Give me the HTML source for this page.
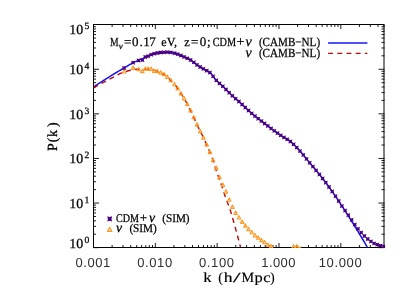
<!DOCTYPE html>
<html><head><meta charset="utf-8"><title>P(k)</title>
<style>
html,body{margin:0;padding:0;background:#fff;}
body{width:415px;height:297px;overflow:hidden;font-family:"Liberation Serif",serif;}
svg{display:block;opacity:0.999;will-change:transform;}
text{text-rendering:geometricPrecision;}
</style></head>
<body>
<svg width="415" height="297" viewBox="0 0 415 297">
<rect x="0" y="0" width="415" height="297" fill="#fff"/>
<defs><clipPath id="box"><rect x="93.5" y="24.5" width="290.5" height="223.0"/></clipPath><clipPath id="box2"><rect x="93.5" y="24.5" width="291.7" height="223.6"/></clipPath></defs>
<path d="M112.11,247.5v-2.5 M112.11,24.5v2.5 M123.00,247.5v-2.5 M123.00,24.5v2.5 M130.72,247.5v-2.5 M130.72,24.5v2.5 M136.71,247.5v-2.5 M136.71,24.5v2.5 M141.61,247.5v-2.5 M141.61,24.5v2.5 M145.75,247.5v-2.5 M145.75,24.5v2.5 M149.33,247.5v-2.5 M149.33,24.5v2.5 M152.49,247.5v-2.5 M152.49,24.5v2.5 M155.32,247.5v-4.5 M155.32,24.5v4.5 M173.93,247.5v-2.5 M173.93,24.5v2.5 M184.82,247.5v-2.5 M184.82,24.5v2.5 M192.54,247.5v-2.5 M192.54,24.5v2.5 M198.53,247.5v-2.5 M198.53,24.5v2.5 M203.43,247.5v-2.5 M203.43,24.5v2.5 M207.57,247.5v-2.5 M207.57,24.5v2.5 M211.15,247.5v-2.5 M211.15,24.5v2.5 M214.32,247.5v-2.5 M214.32,24.5v2.5 M217.14,247.5v-4.5 M217.14,24.5v4.5 M235.75,247.5v-2.5 M235.75,24.5v2.5 M246.64,247.5v-2.5 M246.64,24.5v2.5 M254.36,247.5v-2.5 M254.36,24.5v2.5 M260.36,247.5v-2.5 M260.36,24.5v2.5 M265.25,247.5v-2.5 M265.25,24.5v2.5 M269.39,247.5v-2.5 M269.39,24.5v2.5 M272.97,247.5v-2.5 M272.97,24.5v2.5 M276.14,247.5v-2.5 M276.14,24.5v2.5 M278.97,247.5v-4.5 M278.97,24.5v4.5 M297.58,247.5v-2.5 M297.58,24.5v2.5 M308.46,247.5v-2.5 M308.46,24.5v2.5 M316.19,247.5v-2.5 M316.19,24.5v2.5 M322.18,247.5v-2.5 M322.18,24.5v2.5 M327.07,247.5v-2.5 M327.07,24.5v2.5 M331.21,247.5v-2.5 M331.21,24.5v2.5 M334.80,247.5v-2.5 M334.80,24.5v2.5 M337.96,247.5v-2.5 M337.96,24.5v2.5 M340.79,247.5v-4.5 M340.79,24.5v4.5 M359.40,247.5v-2.5 M359.40,24.5v2.5 M370.28,247.5v-2.5 M370.28,24.5v2.5 M378.01,247.5v-2.5 M378.01,24.5v2.5 M384.00,247.5v-2.5 M384.00,24.5v2.5 M93.0,247.65h6.0 M384.5,247.65h-6.0 M93.0,234.22h3.0 M384.5,234.22h-3.0 M93.0,226.37h3.0 M384.5,226.37h-3.0 M93.0,220.80h3.0 M384.5,220.80h-3.0 M93.0,216.48h3.0 M384.5,216.48h-3.0 M93.0,212.94h3.0 M384.5,212.94h-3.0 M93.0,209.96h3.0 M384.5,209.96h-3.0 M93.0,207.37h3.0 M384.5,207.37h-3.0 M93.0,205.09h3.0 M384.5,205.09h-3.0 M93.0,203.05h6.0 M384.5,203.05h-6.0 M93.0,189.62h3.0 M384.5,189.62h-3.0 M93.0,181.77h3.0 M384.5,181.77h-3.0 M93.0,176.20h3.0 M384.5,176.20h-3.0 M93.0,171.88h3.0 M384.5,171.88h-3.0 M93.0,168.34h3.0 M384.5,168.34h-3.0 M93.0,165.36h3.0 M384.5,165.36h-3.0 M93.0,162.77h3.0 M384.5,162.77h-3.0 M93.0,160.49h3.0 M384.5,160.49h-3.0 M93.0,158.45h6.0 M384.5,158.45h-6.0 M93.0,145.02h3.0 M384.5,145.02h-3.0 M93.0,137.17h3.0 M384.5,137.17h-3.0 M93.0,131.60h3.0 M384.5,131.60h-3.0 M93.0,127.28h3.0 M384.5,127.28h-3.0 M93.0,123.74h3.0 M384.5,123.74h-3.0 M93.0,120.76h3.0 M384.5,120.76h-3.0 M93.0,118.17h3.0 M384.5,118.17h-3.0 M93.0,115.89h3.0 M384.5,115.89h-3.0 M93.0,113.85h6.0 M384.5,113.85h-6.0 M93.0,100.42h3.0 M384.5,100.42h-3.0 M93.0,92.57h3.0 M384.5,92.57h-3.0 M93.0,87.00h3.0 M384.5,87.00h-3.0 M93.0,82.68h3.0 M384.5,82.68h-3.0 M93.0,79.14h3.0 M384.5,79.14h-3.0 M93.0,76.16h3.0 M384.5,76.16h-3.0 M93.0,73.57h3.0 M384.5,73.57h-3.0 M93.0,71.29h3.0 M384.5,71.29h-3.0 M93.0,69.25h6.0 M384.5,69.25h-6.0 M93.0,55.82h3.0 M384.5,55.82h-3.0 M93.0,47.97h3.0 M384.5,47.97h-3.0 M93.0,42.40h3.0 M384.5,42.40h-3.0 M93.0,38.08h3.0 M384.5,38.08h-3.0 M93.0,34.54h3.0 M384.5,34.54h-3.0 M93.0,31.56h3.0 M384.5,31.56h-3.0 M93.0,28.97h3.0 M384.5,28.97h-3.0 M93.0,26.69h3.0 M384.5,26.69h-3.0" stroke="#000" stroke-width="0.9" fill="none"/>
<rect x="93.5" y="24.5" width="290.5" height="223.0" fill="none" stroke="#000" stroke-width="1.0"/>
<g clip-path="url(#box)">
<path d="M93.5,86.9 L94.5,86.3 L95.5,85.6 L96.5,85.0 L97.5,84.3 L98.5,83.7 L99.5,83.0 L100.5,82.4 L101.5,81.8 L102.5,81.1 L103.5,80.5 L104.5,79.9 L105.5,79.2 L106.5,78.6 L107.5,78.0 L108.5,77.3 L109.5,76.7 L110.5,76.1 L111.5,75.4 L112.5,74.8 L113.5,74.2 L114.5,73.6 L115.5,73.0 L116.5,72.4 L117.5,71.8 L118.5,71.2 L119.5,70.7 L120.5,70.1 L121.5,69.5 L122.5,68.9 L123.5,68.4 L124.5,67.8 L125.5,67.2 L126.5,66.6 L127.5,65.9 L128.5,65.3 L129.5,64.7 L130.5,64.1 L131.5,63.6 L132.5,63.0 L133.5,62.5 L134.5,62.0 L135.5,61.6 L136.5,61.1 L137.5,60.7 L138.5,60.2 L139.5,59.8 L140.5,59.4 L141.5,59.0 L142.5,58.6 L143.5,58.1 L144.5,57.6 L145.5,57.1 L146.5,56.7 L147.5,56.4 L148.5,56.0 L149.5,55.5 L150.5,55.0 L151.5,54.6 L152.5,54.2 L153.5,53.9 L154.5,53.6 L155.5,53.4 L156.5,53.2 L157.5,53.0 L158.5,52.8 L159.5,52.6 L160.5,52.5 L161.5,52.4 L162.5,52.4 L163.5,52.3 L164.5,52.3 L165.5,52.3 L166.5,52.2 L167.5,52.2 L168.5,52.2 L169.5,52.2 L170.5,52.3 L171.5,52.5 L172.5,52.7 L173.5,53.0 L174.5,53.2 L175.5,53.5 L176.5,53.8 L177.5,54.1 L178.5,54.5 L179.5,54.9 L180.5,55.3 L181.5,55.8 L182.5,56.2 L183.5,56.6 L184.5,57.1 L185.5,57.5 L186.5,57.9 L187.5,58.4 L188.5,58.9 L189.5,59.4 L190.5,59.9 L191.5,60.6 L192.5,61.3 L193.5,62.1 L194.5,62.9 L195.5,63.7 L196.5,64.5 L197.5,65.3 L198.5,66.0 L199.5,66.6 L200.5,67.2 L201.5,67.8 L202.5,68.3 L203.5,68.9 L204.5,69.4 L205.5,70.0 L206.5,70.6 L207.5,71.2 L208.5,71.7 L209.5,72.3 L210.5,73.1 L211.5,74.1 L212.5,75.4 L213.5,76.9 L214.5,78.2 L215.5,79.4 L216.5,80.5 L217.5,81.5 L218.5,82.4 L219.5,83.3 L220.5,84.2 L221.5,85.1 L222.5,86.1 L223.5,87.0 L224.5,88.0 L225.5,89.0 L226.5,90.0 L227.5,91.0 L228.5,92.0 L229.5,93.0 L230.5,94.0 L231.5,94.9 L232.5,95.9 L233.5,96.8 L234.5,97.7 L235.5,98.6 L236.5,99.5 L237.5,100.3 L238.5,101.2 L239.5,102.1 L240.5,103.0 L241.5,103.9 L242.5,104.9 L243.5,105.8 L244.5,106.8 L245.5,107.7 L246.5,108.7 L247.5,109.6 L248.5,110.5 L249.5,111.4 L250.5,112.3 L251.5,113.2 L252.5,114.0 L253.5,114.9 L254.5,115.7 L255.5,116.6 L256.5,117.4 L257.5,118.2 L258.5,119.0 L259.5,119.7 L260.5,120.5 L261.5,121.2 L262.5,121.9 L263.5,122.7 L264.5,123.4 L265.5,124.2 L266.5,124.9 L267.5,125.7 L268.5,126.5 L269.5,127.2 L270.5,128.0 L271.5,128.8 L272.5,129.5 L273.5,130.3 L274.5,131.0 L275.5,131.7 L276.5,132.4 L277.5,133.1 L278.5,133.8 L279.5,134.5 L280.5,135.2 L281.5,135.8 L282.5,136.5 L283.5,137.1 L284.5,137.7 L285.5,138.3 L286.5,138.9 L287.5,139.6 L288.5,140.2 L289.5,140.9 L290.5,141.6 L291.5,142.4 L292.5,143.3 L293.5,144.2 L294.5,145.2 L295.5,146.2 L296.5,147.3 L297.5,148.4 L298.5,149.4 L299.5,150.5 L300.5,151.7 L301.5,152.8 L302.5,154.0 L303.5,155.2 L304.5,156.4 L305.5,157.7 L306.5,158.9 L307.5,160.1 L308.5,161.4 L309.5,162.6 L310.5,163.8 L311.5,164.9 L312.5,166.1 L313.5,167.3 L314.5,168.4 L315.5,169.6 L316.5,170.8 L317.5,172.1 L318.5,173.3 L319.5,174.6 L320.5,175.8 L321.5,177.1 L322.5,178.4 L323.5,179.7 L324.5,181.0 L325.5,182.3 L326.5,183.6 L327.5,185.0 L328.5,186.3 L329.5,187.7 L330.5,189.1 L331.5,190.5 L332.5,191.9 L333.5,193.3 L334.5,194.8 L335.5,196.3 L336.5,197.7 L337.5,199.2 L338.5,200.8 L339.5,202.3 L340.5,203.8 L341.5,205.3 L342.5,206.9 L343.5,208.4 L344.5,210.0 L345.5,211.5 L346.5,213.1 L347.5,214.6 L348.5,216.2 L349.5,217.8 L350.5,219.4 L351.5,221.0 L352.5,222.6 L353.5,224.2 L354.5,225.8 L355.5,227.4 L356.5,229.0 L357.5,230.7 L358.5,232.3 L359.5,234.0 L360.5,235.6 L361.5,237.3 L362.5,239.0 L363.5,240.7 L364.5,242.4 L365.5,244.1 L366.5,245.8 L367.3,247.2" stroke="#1010ff" stroke-width="1.5" fill="none" stroke-linejoin="round"/>
<path d="M93.5,87.8 L94.5,87.3 L95.5,86.7 L96.5,86.2 L97.5,85.6 L98.5,85.1 L99.5,84.5 L100.5,84.0 L101.5,83.4 L102.5,82.9 L103.5,82.4 L104.5,81.8 L105.5,81.3 L106.5,80.8 L107.5,80.2 L108.5,79.7 L109.5,79.2 L110.5,78.6 L111.5,78.1 L112.5,77.6 L113.5,77.1 L114.5,76.6 L115.5,76.0 L116.5,75.5 L117.5,75.0 L118.5,74.4 L119.5,73.9 L120.5,73.4 L121.5,73.0 L122.5,72.6 L123.5,72.2 L124.5,71.9 L125.5,71.6 L126.5,71.3 L127.5,71.0 L128.5,70.7 L129.5,70.5 L130.5,70.3 L131.5,70.1 L132.5,69.9 L133.5,69.7 L134.5,69.6 L135.5,69.4 L136.5,69.3 L137.5,69.2 L138.5,69.2 L139.5,69.1 L140.5,69.1 L141.5,69.1 L142.5,69.0 L143.5,69.0 L144.5,69.0 L145.5,69.0 L146.5,69.0 L147.5,69.1 L148.5,69.2 L149.5,69.4 L150.5,69.5 L151.5,69.6 L152.5,69.8 L153.5,70.1 L154.5,70.3 L155.5,70.6 L156.5,71.0 L157.5,71.3 L158.5,71.7 L159.5,72.2 L160.5,72.7 L161.5,73.2 L162.5,73.7 L163.5,74.3 L164.5,74.9 L165.5,75.6 L166.5,76.4 L167.5,77.2 L168.5,78.1 L169.5,79.1 L170.5,80.2 L171.5,81.2 L172.5,82.2 L173.5,83.2 L174.5,84.3 L175.5,85.5 L176.5,86.8 L177.5,88.2 L178.5,89.7 L179.5,91.2 L180.5,92.8 L181.5,94.3 L182.5,95.8 L183.5,97.4 L184.5,99.1 L185.5,100.8 L186.5,102.6 L187.5,104.5 L188.5,106.4 L189.5,108.4 L190.5,110.4 L191.5,112.4 L192.5,114.5 L193.5,116.7 L194.5,119.0 L195.5,121.3 L196.5,123.5 L197.5,125.6 L198.5,127.8 L199.5,129.8 L200.5,131.8 L201.5,133.7 L202.5,135.7 L203.5,137.7 L204.5,139.8 L205.5,142.0 L206.5,144.2 L207.5,146.5 L208.5,148.8 L209.5,151.2 L210.5,153.6 L211.5,156.1 L212.5,158.8 L213.5,161.7 L214.5,164.8 L215.5,168.1 L216.5,171.4 L217.5,174.4 L218.5,177.1 L219.5,179.8 L220.5,182.4 L221.5,185.2 L222.5,188.1 L223.5,191.2 L224.5,194.2 L225.5,197.1 L226.5,199.8 L227.5,202.5 L228.5,205.2 L229.5,208.0 L230.5,211.0 L231.5,214.2 L232.5,217.6 L233.5,221.2 L234.5,224.8 L235.5,228.4 L236.5,232.1 L237.5,235.8 L238.5,239.5 L239.5,243.3 L240.5,247.2" stroke="#c00808" stroke-width="1.4" fill="none" stroke-dasharray="5.0 4.1" stroke-linejoin="round"/>
</g>
<defs>
<path id="st" d="M-2.0,-2.0 L0,-1.4 L2.0,-2.0 L1.4,0 L2.0,2.0 L0,1.4 L-2.0,2.0 L-1.4,0 Z" fill="#4b0082"/>
<path id="tr" d="M0,-1.9 L1.7,1.45 L-1.7,1.45 Z" fill="none" stroke="#ff9822" stroke-width="1.15" stroke-linejoin="round"/>
<path id="stL" d="M-2.4,-2.6 L0,-1.9 L2.4,-2.6 L1.8,0 L2.4,2.6 L0,1.9 L-2.4,2.6 L-1.8,0 Z" fill="#4b0082"/>
<path id="trL" d="M0,-2.0 L2.2,1.9 L-2.2,1.9 Z" fill="none" stroke="#ff9822" stroke-width="1.2" stroke-linejoin="round"/>
</defs>
<g clip-path="url(#box2)">
<use href="#tr" x="124.1" y="71.5"/>
<use href="#tr" x="133.1" y="67.9"/>
<use href="#tr" x="138.6" y="69.3"/>
<use href="#tr" x="142.4" y="71.1"/>
<use href="#tr" x="145.3" y="68.8"/>
<use href="#tr" x="148.2" y="68.8"/>
<use href="#tr" x="151.2" y="69.0"/>
<use href="#tr" x="154.2" y="70.9"/>
<use href="#tr" x="157.4" y="71.2"/>
<use href="#tr" x="160.7" y="72.6"/>
<use href="#tr" x="164.0" y="74.2"/>
<use href="#tr" x="167.3" y="76.9"/>
<use href="#tr" x="170.8" y="80.3"/>
<use href="#tr" x="174.5" y="84.3"/>
<use href="#tr" x="177.7" y="88.4"/>
<use href="#tr" x="180.9" y="93.4"/>
<use href="#tr" x="184.1" y="98.4"/>
<use href="#tr" x="187.3" y="104.2"/>
<use href="#tr" x="190.6" y="110.5"/>
<use href="#tr" x="193.8" y="117.3"/>
<use href="#tr" x="197.0" y="124.6"/>
<use href="#tr" x="200.2" y="131.2"/>
<use href="#tr" x="203.4" y="137.6"/>
<use href="#tr" x="206.7" y="144.6"/>
<use href="#tr" x="209.9" y="152.1"/>
<use href="#tr" x="213.1" y="160.3"/>
<use href="#tr" x="216.3" y="168.1"/>
<use href="#tr" x="219.5" y="177.2"/>
<use href="#tr" x="222.8" y="185.0"/>
<use href="#tr" x="226.0" y="191.6"/>
<use href="#tr" x="229.2" y="199.8"/>
<use href="#tr" x="232.4" y="206.9"/>
<use href="#tr" x="235.6" y="212.9"/>
<use href="#tr" x="238.9" y="217.5"/>
<use href="#tr" x="242.1" y="221.9"/>
<use href="#tr" x="245.3" y="225.7"/>
<use href="#tr" x="248.5" y="229.2"/>
<use href="#tr" x="251.7" y="232.3"/>
<use href="#tr" x="255.0" y="235.4"/>
<use href="#tr" x="258.2" y="237.8"/>
<use href="#tr" x="261.4" y="240.2"/>
<use href="#tr" x="264.6" y="242.3"/>
<use href="#tr" x="267.8" y="245.0"/>
<use href="#tr" x="271.1" y="246.4"/>
<use href="#tr" x="293.6" y="246.6"/>
<use href="#tr" x="296.8" y="246.6"/>
<use href="#tr" x="300.0" y="248.6"/>
<use href="#st" x="124.1" y="68.0"/>
<use href="#st" x="133.1" y="62.7"/>
<use href="#st" x="138.6" y="60.5"/>
<use href="#st" x="142.4" y="60.1"/>
<use href="#st" x="145.3" y="57.0"/>
<use href="#st" x="148.2" y="56.2"/>
<use href="#st" x="151.2" y="54.7"/>
<use href="#st" x="154.2" y="53.7"/>
<use href="#st" x="157.4" y="53.0"/>
<use href="#st" x="160.7" y="52.5"/>
<use href="#st" x="164.0" y="52.3"/>
<use href="#st" x="167.3" y="52.2"/>
<use href="#st" x="170.8" y="52.4"/>
<use href="#st" x="174.5" y="53.2"/>
<use href="#st" x="177.7" y="54.2"/>
<use href="#st" x="180.9" y="55.5"/>
<use href="#st" x="184.1" y="56.9"/>
<use href="#st" x="187.3" y="58.3"/>
<use href="#st" x="190.6" y="60.0"/>
<use href="#st" x="193.8" y="62.3"/>
<use href="#st" x="197.0" y="64.9"/>
<use href="#st" x="200.2" y="67.0"/>
<use href="#st" x="203.4" y="68.8"/>
<use href="#st" x="206.7" y="70.7"/>
<use href="#st" x="209.9" y="72.6"/>
<use href="#st" x="213.1" y="76.3"/>
<use href="#st" x="216.3" y="80.3"/>
<use href="#st" x="219.5" y="83.4"/>
<use href="#st" x="222.8" y="86.3"/>
<use href="#st" x="226.0" y="89.5"/>
<use href="#st" x="229.2" y="92.7"/>
<use href="#st" x="232.4" y="95.8"/>
<use href="#st" x="235.6" y="98.7"/>
<use href="#st" x="238.9" y="101.5"/>
<use href="#st" x="242.1" y="104.5"/>
<use href="#st" x="245.3" y="107.5"/>
<use href="#st" x="248.5" y="110.5"/>
<use href="#st" x="251.7" y="113.4"/>
<use href="#st" x="255.0" y="116.1"/>
<use href="#st" x="258.2" y="118.7"/>
<use href="#st" x="261.4" y="121.1"/>
<use href="#st" x="264.6" y="123.5"/>
<use href="#st" x="267.8" y="125.9"/>
<use href="#st" x="271.1" y="128.4"/>
<use href="#st" x="274.3" y="130.8"/>
<use href="#st" x="277.5" y="133.1"/>
<use href="#st" x="280.7" y="135.3"/>
<use href="#st" x="283.9" y="137.4"/>
<use href="#st" x="287.2" y="139.3"/>
<use href="#st" x="290.4" y="141.5"/>
<use href="#st" x="293.6" y="144.3"/>
<use href="#st" x="296.8" y="147.6"/>
<use href="#st" x="300.0" y="151.1"/>
<use href="#st" x="303.3" y="154.9"/>
<use href="#st" x="306.5" y="158.9"/>
<use href="#st" x="309.7" y="162.8"/>
<use href="#st" x="312.9" y="166.6"/>
<use href="#st" x="316.1" y="170.4"/>
<use href="#st" x="319.4" y="174.4"/>
<use href="#st" x="322.6" y="178.5"/>
<use href="#st" x="325.8" y="182.7"/>
<use href="#st" x="329.0" y="187.0"/>
<use href="#st" x="332.2" y="191.5"/>
<use href="#st" x="335.5" y="196.2"/>
<use href="#st" x="338.7" y="201.0"/>
<use href="#st" x="341.9" y="206.1"/>
<use href="#st" x="345.1" y="210.6"/>
<use href="#st" x="348.3" y="215.2"/>
<use href="#st" x="351.6" y="219.8"/>
<use href="#st" x="354.8" y="224.6"/>
<use href="#st" x="358.0" y="228.8"/>
<use href="#st" x="361.2" y="232.6"/>
<use href="#st" x="364.4" y="236.0"/>
<use href="#st" x="367.7" y="239.0"/>
<use href="#st" x="370.9" y="241.4"/>
<use href="#st" x="374.1" y="243.4"/>
<use href="#st" x="377.3" y="244.6"/>
<use href="#st" x="380.5" y="245.7"/>
<use href="#st" x="383.8" y="246.5"/>
</g>
<path d="M328.1,43.0H367.4" stroke="#1414ff" stroke-width="1.5"/>
<path d="M328.1,53.4H367.4" stroke="#c00808" stroke-width="1.4" stroke-dasharray="4.9 4.3"/>
<use href="#stL" x="109.7" y="218.9"/>
<use href="#trL" x="109.7" y="229.5"/>
<text x="110.0" y="46.1" font-family="'Liberation Serif', serif" font-size="12.4" text-anchor="start" textLength="8.6" lengthAdjust="spacingAndGlyphs" fill="#000" stroke="#000" stroke-width="0.25">M</text>
<text x="118.7" y="48.6" font-family="'Liberation Serif', serif" font-size="9" text-anchor="start" fill="#000" stroke="#000" stroke-width="0.25"><tspan font-style="italic">&#957;</tspan></text>
<text y="46.1" font-family="'Liberation Serif', serif" font-size="13.0" fill="#000" stroke="#000" stroke-width="0.25" x="123.9 132.0 139.6 143.2 149.2">=0.17</text>
<text x="161.3" y="46.1" font-family="'Liberation Serif', serif" font-size="12.4" text-anchor="start" textLength="15.7" lengthAdjust="spacingAndGlyphs" fill="#000" stroke="#000" stroke-width="0.25">eV,</text>
<text y="46.1" font-family="'Liberation Serif', serif" font-size="13.0" fill="#000" stroke="#000" stroke-width="0.25" x="184.3 191.0 199.7 206.9"><tspan font-size="12.4">z</tspan>=0;</text>
<text x="212.7" y="46.1" font-family="'Liberation Serif', serif" font-size="12.4" text-anchor="start" textLength="23.3" lengthAdjust="spacingAndGlyphs" fill="#000" stroke="#000" stroke-width="0.25">CDM</text>
<text x="236.6" y="46.1" font-family="'Liberation Serif', serif" font-size="14" text-anchor="start" fill="#000" stroke="#000" stroke-width="0.25">+</text>
<text x="245.4" y="46.1" font-family="'Liberation Serif', serif" font-size="14.0" text-anchor="start" fill="#000" stroke="#000" stroke-width="0.25"><tspan font-style="italic">&#957;</tspan></text>
<text x="258.9" y="46.1" font-family="'Liberation Serif', serif" font-size="12.4" text-anchor="start" textLength="61.2" lengthAdjust="spacingAndGlyphs" fill="#000" stroke="#000" stroke-width="0.25">(CAMB&#8722;NL)</text>
<text x="245.4" y="56.7" font-family="'Liberation Serif', serif" font-size="14.0" text-anchor="start" fill="#000" stroke="#000" stroke-width="0.25"><tspan font-style="italic">&#957;</tspan></text>
<text x="258.9" y="56.7" font-family="'Liberation Serif', serif" font-size="12.4" text-anchor="start" textLength="61.2" lengthAdjust="spacingAndGlyphs" fill="#000" stroke="#000" stroke-width="0.25">(CAMB&#8722;NL)</text>
<text x="116.0" y="221.8" font-family="'Liberation Serif', serif" font-size="11.8" text-anchor="start" textLength="23.0" lengthAdjust="spacingAndGlyphs" fill="#000" stroke="#000" stroke-width="0.25">CDM</text>
<text x="139.8" y="221.8" font-family="'Liberation Serif', serif" font-size="13.0" text-anchor="start" fill="#000" stroke="#000" stroke-width="0.25">+</text>
<text x="148.9" y="221.8" font-family="'Liberation Serif', serif" font-size="13.8" text-anchor="start" fill="#000" stroke="#000" stroke-width="0.25"><tspan font-style="italic">&#957;</tspan></text>
<text x="162.2" y="221.8" font-family="'Liberation Serif', serif" font-size="11.8" text-anchor="start" textLength="27.4" lengthAdjust="spacingAndGlyphs" fill="#000" stroke="#000" stroke-width="0.25">(SIM)</text>
<text x="116.0" y="232.4" font-family="'Liberation Serif', serif" font-size="13.8" text-anchor="start" fill="#000" stroke="#000" stroke-width="0.25"><tspan font-style="italic">&#957;</tspan></text>
<text x="129.4" y="232.4" font-family="'Liberation Serif', serif" font-size="11.8" text-anchor="start" textLength="27.4" lengthAdjust="spacingAndGlyphs" fill="#000" stroke="#000" stroke-width="0.25">(SIM)</text>
<text x="69.3" y="33.8" font-family="'Liberation Serif', serif" font-size="13.8" text-anchor="start" textLength="13.9" lengthAdjust="spacingAndGlyphs" fill="#000" stroke="#000" stroke-width="0.25">10</text>
<text x="84.5" y="28.5" font-family="'Liberation Serif', serif" font-size="9.6" text-anchor="start" fill="#000" stroke="#000" stroke-width="0.25">5</text>
<text x="69.3" y="74.4" font-family="'Liberation Serif', serif" font-size="13.8" text-anchor="start" textLength="13.9" lengthAdjust="spacingAndGlyphs" fill="#000" stroke="#000" stroke-width="0.25">10</text>
<text x="84.5" y="69.1" font-family="'Liberation Serif', serif" font-size="9.6" text-anchor="start" fill="#000" stroke="#000" stroke-width="0.25">4</text>
<text x="69.3" y="118.9" font-family="'Liberation Serif', serif" font-size="13.8" text-anchor="start" textLength="13.9" lengthAdjust="spacingAndGlyphs" fill="#000" stroke="#000" stroke-width="0.25">10</text>
<text x="84.5" y="113.6" font-family="'Liberation Serif', serif" font-size="9.6" text-anchor="start" fill="#000" stroke="#000" stroke-width="0.25">3</text>
<text x="69.3" y="163.4" font-family="'Liberation Serif', serif" font-size="13.8" text-anchor="start" textLength="13.9" lengthAdjust="spacingAndGlyphs" fill="#000" stroke="#000" stroke-width="0.25">10</text>
<text x="84.5" y="158.1" font-family="'Liberation Serif', serif" font-size="9.6" text-anchor="start" fill="#000" stroke="#000" stroke-width="0.25">2</text>
<text x="69.3" y="208.0" font-family="'Liberation Serif', serif" font-size="13.8" text-anchor="start" textLength="13.9" lengthAdjust="spacingAndGlyphs" fill="#000" stroke="#000" stroke-width="0.25">10</text>
<text x="84.5" y="202.7" font-family="'Liberation Serif', serif" font-size="9.6" text-anchor="start" fill="#000" stroke="#000" stroke-width="0.25">1</text>
<text x="69.3" y="248.0" font-family="'Liberation Serif', serif" font-size="13.8" text-anchor="start" textLength="13.9" lengthAdjust="spacingAndGlyphs" fill="#000" stroke="#000" stroke-width="0.25">10</text>
<text x="84.5" y="242.7" font-family="'Liberation Serif', serif" font-size="9.6" text-anchor="start" fill="#000" stroke="#000" stroke-width="0.25">0</text>
<text x="75.6" y="266.5" font-family="'Liberation Sans', sans-serif" font-size="13" textLength="34.7" lengthAdjust="spacing" fill="#303030">0.001</text>
<text x="137.2" y="266.5" font-family="'Liberation Sans', sans-serif" font-size="13" textLength="35.0" lengthAdjust="spacing" fill="#303030">0.010</text>
<text x="198.9" y="266.5" font-family="'Liberation Sans', sans-serif" font-size="13" textLength="35.2" lengthAdjust="spacing" fill="#303030">0.100</text>
<text x="261.3" y="266.5" font-family="'Liberation Sans', sans-serif" font-size="13" textLength="34.2" lengthAdjust="spacing" fill="#303030">1.000</text>
<text x="318.7" y="266.5" font-family="'Liberation Sans', sans-serif" font-size="13" textLength="43.0" lengthAdjust="spacing" fill="#303030">10.000</text>
<text x="203.2" y="282.4" font-family="'Liberation Serif', serif" font-size="14" text-anchor="start" textLength="8.4" lengthAdjust="spacingAndGlyphs" fill="#000" stroke="#000" stroke-width="0.15">k</text>
<text x="218.3" y="282.4" font-family="'Liberation Serif', serif" font-size="14" text-anchor="start" textLength="4.6" lengthAdjust="spacingAndGlyphs" fill="#000" stroke="#000" stroke-width="0.15">(</text>
<text x="223.8" y="282.4" font-family="'Liberation Serif', serif" font-size="14" text-anchor="start" textLength="8.8" lengthAdjust="spacingAndGlyphs" fill="#000" stroke="#000" stroke-width="0.15">h</text>
<text x="232.9" y="282.4" font-family="'Liberation Serif', serif" font-size="14" text-anchor="start" textLength="7.6" lengthAdjust="spacingAndGlyphs" fill="#000" stroke="#000" stroke-width="0.15">/</text>
<text x="241.6" y="282.4" font-family="'Liberation Serif', serif" font-size="14" text-anchor="start" textLength="12.6" lengthAdjust="spacingAndGlyphs" fill="#000" stroke="#000" stroke-width="0.15">M</text>
<text x="254.6" y="282.4" font-family="'Liberation Serif', serif" font-size="14" text-anchor="start" textLength="8.2" lengthAdjust="spacingAndGlyphs" fill="#000" stroke="#000" stroke-width="0.15">p</text>
<text x="263.2" y="282.4" font-family="'Liberation Serif', serif" font-size="14" text-anchor="start" textLength="7.2" lengthAdjust="spacingAndGlyphs" fill="#000" stroke="#000" stroke-width="0.15">c</text>
<text x="270.2" y="282.4" font-family="'Liberation Serif', serif" font-size="14" text-anchor="start" textLength="4.4" lengthAdjust="spacingAndGlyphs" fill="#000" stroke="#000" stroke-width="0.15">)</text>
<g transform="translate(57.1,150.9) rotate(-90)"><text y="0" font-family="'Liberation Serif', serif" font-size="14" fill="#000" stroke="#000" stroke-width="0.3" x="0 8.6 14.0 23.8">P(k)</text></g>
</svg>
</body></html>
